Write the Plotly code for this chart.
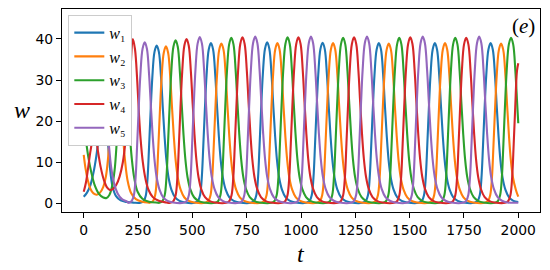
import plotly.graph_objects as go

# ---------------- data ----------------
series_labels = ["<i>w</i>₁", "<i>w</i>₂", "<i>w</i>₃", "<i>w</i>₄", "<i>w</i>₅"]
series_colors = ["#1f77b4", "#ff7f0e", "#2ca02c", "#d62728", "#9467bd"]

x_ticks = [0, 250, 500, 750, 1000, 1250, 1500, 1750, 2000]
y_ticks = [0, 10, 20, 30, 40]

# shape of one steady pulse (offset from its peak in t, fraction of peak height)
pulse_offsets = [-75, -60, -50, -42, -35, -28, -20, -10, 0, 10, 20, 28, 36, 45, 55, 68, 85, 105, 130]
pulse_fractions = [0.003, 0.014, 0.05, 0.16, 0.36, 0.58, 0.8, 0.96, 1.0, 0.96, 0.8, 0.61, 0.43,
                   0.27, 0.16, 0.085, 0.037, 0.015, 0.005]

# early transient (read point by point)
w1_early_t = [0, 15, 30, 45, 58, 70, 80, 92, 103, 112, 121, 132, 148, 170, 200, 230]
w1_early_w = [1.6, 2.6, 4.3, 7.5, 11.5, 16.5, 21, 24, 21, 14.5, 8.5, 4.2, 1.8, 0.7, 0.3, 0.15]

w2_early_t = [0, 8, 18, 30, 45, 60, 75, 90, 102, 112, 121, 131, 141, 151, 161, 171, 180, 190,
              202, 218, 240, 270, 300]
w2_early_w = [11.8, 8.6, 5.8, 3.6, 2.4, 2.1, 2.6, 4.0, 6.5, 11, 18, 27, 34, 36, 33, 25, 17, 10.5,
              5.5, 2.5, 1.0, 0.35, 0.15]

w3_early_t = [0, 10, 22, 35, 50, 70, 90, 105, 118, 130, 142, 152, 162, 172, 182, 192, 202, 211,
              221, 233, 248, 270, 300, 340]
w3_early_w = [20.5, 15.5, 11, 7.5, 4.5, 2.3, 1.4, 1.3, 2.0, 4.0, 8.0, 15, 24.5, 32.5, 36.5, 34,
              26.5, 18, 11, 6.0, 2.8, 1.1, 0.4, 0.15]

w4_early_t = [0, 10, 20, 32, 45, 56, 66, 78, 92, 108, 122, 135, 150, 165, 180, 192, 203, 214,
              226, 236, 246, 254, 262, 272, 284, 298, 318, 345, 380]
w4_early_w = [2.8, 5.0, 8.5, 13, 16, 15.5, 12.5, 8.8, 5.8, 3.8, 3.2, 3.5, 4.5, 6.5, 10, 15, 22,
              31, 40, 37.5, 30, 22, 15.5, 10, 6.0, 3.3, 1.5, 0.6, 0.2]

w5_early_t = [0, 8, 18, 27, 36, 46, 56, 66, 74, 82, 92, 100, 108, 117, 127, 140, 156, 176, 200]
w5_early_w = [19.5, 16.5, 14.2, 15.5, 19.5, 27, 36, 42.5, 45, 43, 36, 28, 20.5, 13.5, 8.5, 4.8,
              2.4, 1.0, 0.4]

# peaks of the regular oscillation
w1_peak_t = [335.8, 585.4, 844.3, 1099.4, 1358.2, 1616.1, 1872.7]
w1_peak_h = [38.4, 39.0, 39.2, 39.1, 39.0, 39.0, 39.0]
w2_peak_t = [378.4, 633.5, 891.4, 1147.5, 1404.0, 1662.8, 1920.8]
w2_peak_h = [38.2, 38.9, 39.0, 39.0, 38.9, 39.0, 38.9]
w3_peak_t = [422.8, 679.3, 938.2, 1193.8, 1452.1, 1710.0, 1966.6]
w3_peak_h = [39.7, 40.3, 40.4, 40.3, 40.3, 40.3, 40.3]
w4_peak_t = [473.2, 730.6, 988.1, 1244.2, 1503.0, 1760.4, 2014.0]
w4_peak_h = [40.0, 40.4, 40.4, 40.4, 40.4, 40.3, 40.3]
w5_peak_t = [280.8, 534.1, 789.3, 1045.8, 1303.7, 1560.3, 1820.0]
w5_peak_h = [39.2, 40.5, 40.6, 40.6, 40.6, 40.6, 40.6]

t_end = 2000
w_end = [0.3, 1.6, 19.5, 34.1, 0.15]

early_t = [w1_early_t, w2_early_t, w3_early_t, w4_early_t, w5_early_t]
early_w = [w1_early_w, w2_early_w, w3_early_w, w4_early_w, w5_early_w]
peak_t = [w1_peak_t, w2_peak_t, w3_peak_t, w4_peak_t, w5_peak_t]
peak_h = [w1_peak_h, w2_peak_h, w3_peak_h, w4_peak_h, w5_peak_h]


def build(et, ew, pt, ph, wend):
    pts = list(zip(et, ew))
    for p, h in zip(pt, ph):
        for o, f in zip(pulse_offsets, pulse_fractions):
            t = p + o
            if et[-1] < t < t_end:
                pts.append((t, h * f))
    pts.append((t_end, wend))
    pts.sort()
    return [a for a, _ in pts], [b for _, b in pts]


fig = go.Figure()
for i in range(5):
    xs, ys = build(early_t[i], early_w[i], peak_t[i], peak_h[i], w_end[i])
    fig.add_trace(go.Scatter(x=xs, y=ys, mode="lines", name=series_labels[i],
                             line=dict(color=series_colors[i], width=2.1, shape="spline",
                                       smoothing=1.0)))

axis_common = dict(showline=True, mirror=True, linecolor="black", linewidth=1.1,
                   ticks="outside", ticklen=5, tickwidth=1.1, tickcolor="black",
                   showgrid=False, zeroline=False,
                   tickfont=dict(family="DejaVu Sans", size=13.9, color="black"))

fig.update_layout(
    width=550, height=270,
    margin=dict(l=62, r=10, t=9, b=58),
    paper_bgcolor="white", plot_bgcolor="white",
    xaxis=dict(range=[-100, 2100], tickmode="array", tickvals=x_ticks,
               ticktext=[str(v) for v in x_ticks], **axis_common),
    yaxis=dict(range=[-2.12, 47.3], tickmode="array", tickvals=y_ticks,
               ticktext=[str(v) for v in y_ticks], **axis_common),
    showlegend=True,
    legend=dict(x=0.0132, y=0.972, xanchor="left", yanchor="top",
                bgcolor="white", bordercolor="#cccccc", borderwidth=1,
                font=dict(family="Liberation Serif", size=16, color="black"),
                tracegroupgap=0),
    annotations=[
        dict(text="<i>t</i>", xref="paper", yref="paper", x=0.5, y=-0.207,
             xanchor="center", yanchor="middle", showarrow=False,
             font=dict(family="Liberation Serif", size=24, color="black")),
        dict(text="<i>w</i>", xref="paper", yref="paper", x=-0.0837, y=0.502,
             xanchor="center", yanchor="middle", showarrow=False,
             font=dict(family="Liberation Serif", size=24, color="black")),
        dict(text="(<i>e</i>)", xref="paper", yref="paper", x=0.994, y=0.985,
             xanchor="right", yanchor="top", showarrow=False,
             font=dict(family="Liberation Serif", size=21, color="black")),
    ],
)

fig.write_html("out.html", config={"displayModeBar": False},
               post_script="document.body.style.margin='0';")
